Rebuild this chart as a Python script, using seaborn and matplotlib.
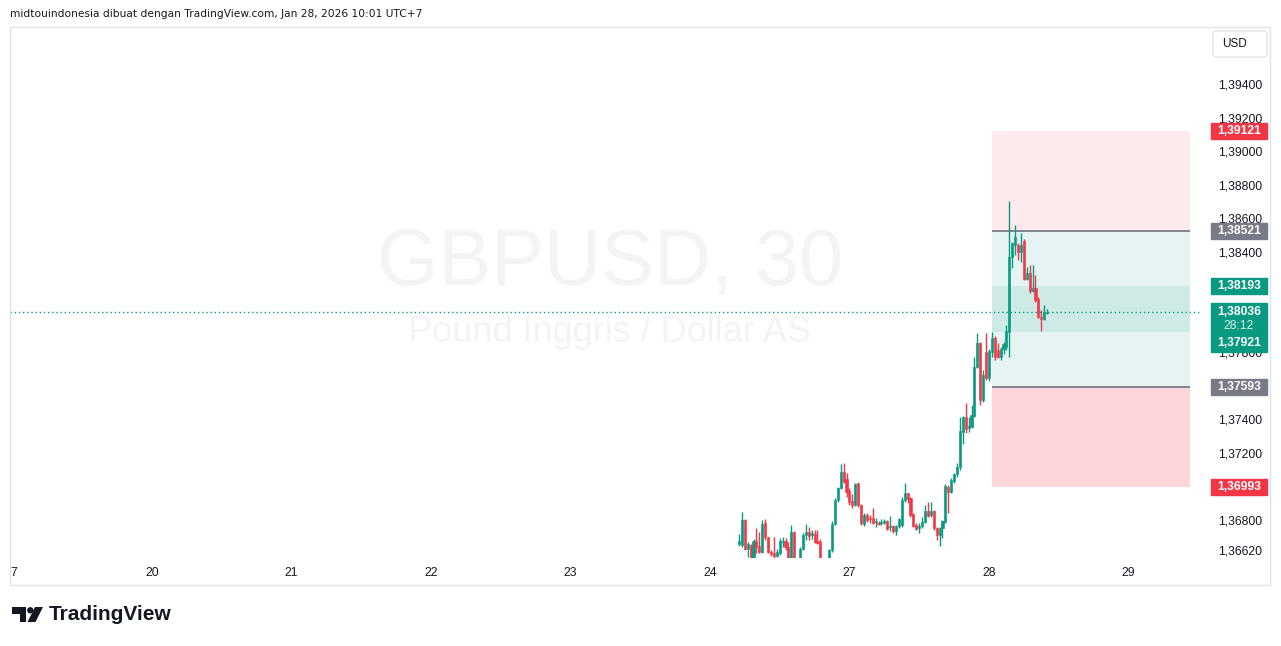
import numpy as np
import pandas as pd
import seaborn as sns
import matplotlib.pyplot as plt
import matplotlib.transforms as mtransforms
from matplotlib.patches import Rectangle, FancyBboxPatch, Polygon, Circle

# GBPUSD 30m candles, Jan 26 05:00 -> Jan 28 10:00 (UTC+7)
opens = [1.36654, 1.36648, 1.36797, 1.36624, 1.36648, 1.36570, 1.36672, 1.36642, 1.36606, 1.36779,
         1.36696, 1.36606, 1.36600, 1.36582, 1.36600, 1.36666, 1.36672, 1.36636, 1.36558, 1.36725,
         1.36528, 1.36546, 1.36624, 1.36707, 1.36725, 1.36707, 1.36713, 1.36672, 1.36666, 1.36540,
         1.36499, 1.36540, 1.36618, 1.36773, 1.36917, 1.36988, 1.37084, 1.37042, 1.36970, 1.36911,
         1.36887, 1.37018, 1.36887, 1.36773, 1.36827, 1.36809, 1.36809, 1.36785, 1.36779, 1.36779,
         1.36779, 1.36791, 1.36755, 1.36761, 1.36731, 1.36761, 1.36767, 1.36917, 1.36958, 1.36929,
         1.36833, 1.36767, 1.36749, 1.36761, 1.36785, 1.36851, 1.36827, 1.36851, 1.36749, 1.36707,
         1.36749, 1.36785, 1.36994, 1.36964, 1.37030, 1.37072, 1.37114, 1.37322, 1.37412, 1.37346,
         1.37352, 1.37418, 1.37711, 1.37854, 1.37514, 1.37800, 1.37645, 1.37800, 1.37884, 1.37812,
         1.37770, 1.37818, 1.37830, 1.37919, 1.38367, 1.38439, 1.38439, 1.38397, 1.38463, 1.38236,
         1.38272, 1.38164, 1.38182, 1.38116, 1.38009, 1.37997, 1.38030]
highs = [1.36713, 1.36845, 1.36803, 1.36666, 1.36654, 1.36684, 1.36749, 1.36725, 1.36797, 1.36803,
         1.36696, 1.36618, 1.36696, 1.36624, 1.36690, 1.36696, 1.36690, 1.36666, 1.36767, 1.36731,
         1.36540, 1.36636, 1.36719, 1.36773, 1.36755, 1.36737, 1.36737, 1.36737, 1.36684, 1.36546,
         1.36540, 1.36624, 1.36791, 1.36929, 1.36994, 1.37131, 1.37137, 1.37078, 1.36988, 1.36952,
         1.37018, 1.37018, 1.36893, 1.36839, 1.36839, 1.36827, 1.36869, 1.36809, 1.36791, 1.36803,
         1.36803, 1.36797, 1.36821, 1.36767, 1.36767, 1.36809, 1.36934, 1.37018, 1.36958, 1.36935,
         1.36839, 1.36779, 1.36779, 1.36815, 1.36887, 1.36905, 1.36905, 1.36857, 1.36755, 1.36755,
         1.36797, 1.37012, 1.37006, 1.37048, 1.37078, 1.37137, 1.37412, 1.37418, 1.37496, 1.37412,
         1.37484, 1.37770, 1.37913, 1.37860, 1.37693, 1.37913, 1.37818, 1.37919, 1.37896, 1.37854,
         1.37830, 1.37860, 1.37961, 1.38702, 1.38457, 1.38558, 1.38451, 1.38510, 1.38475, 1.38308,
         1.38320, 1.38320, 1.38260, 1.38128, 1.38051, 1.38081, 1.38057]
lows = [1.36642, 1.36636, 1.36618, 1.36576, 1.36546, 1.36546, 1.36600, 1.36600, 1.36600, 1.36678,
        1.36600, 1.36582, 1.36570, 1.36576, 1.36588, 1.36636, 1.36618, 1.36546, 1.36546, 1.36540,
        1.36499, 1.36540, 1.36618, 1.36678, 1.36678, 1.36684, 1.36660, 1.36655, 1.36540, 1.36487,
        1.36487, 1.36534, 1.36606, 1.36767, 1.36905, 1.36982, 1.37018, 1.36934, 1.36887, 1.36869,
        1.36881, 1.36875, 1.36767, 1.36761, 1.36785, 1.36779, 1.36776, 1.36755, 1.36767, 1.36767,
        1.36773, 1.36737, 1.36731, 1.36719, 1.36707, 1.36749, 1.36755, 1.36905, 1.36899, 1.36815,
        1.36755, 1.36737, 1.36719, 1.36749, 1.36779, 1.36815, 1.36815, 1.36737, 1.36678, 1.36642,
        1.36690, 1.36779, 1.36839, 1.36958, 1.37018, 1.37054, 1.37096, 1.37251, 1.37316, 1.37322,
        1.37346, 1.37412, 1.37705, 1.37484, 1.37502, 1.37633, 1.37627, 1.37770, 1.37752, 1.37764,
        1.37752, 1.37788, 1.37812, 1.37770, 1.38301, 1.38379, 1.38349, 1.38337, 1.38230, 1.38230,
        1.38152, 1.38158, 1.38099, 1.38003, 1.37925, 1.37991, 1.38024]
closes = [1.36672, 1.36797, 1.36624, 1.36654, 1.36570, 1.36672, 1.36636, 1.36606, 1.36773, 1.36696,
          1.36606, 1.36594, 1.36582, 1.36606, 1.36672, 1.36672, 1.36636, 1.36570, 1.36725, 1.36552,
          1.36511, 1.36624, 1.36707, 1.36725, 1.36701, 1.36719, 1.36666, 1.36660, 1.36552, 1.36499,
          1.36528, 1.36618, 1.36773, 1.36917, 1.36988, 1.37084, 1.37024, 1.36964, 1.36905, 1.36887,
          1.37012, 1.36887, 1.36779, 1.36827, 1.36797, 1.36803, 1.36782, 1.36791, 1.36773, 1.36785,
          1.36791, 1.36743, 1.36761, 1.36731, 1.36761, 1.36803, 1.36917, 1.36958, 1.36923, 1.36827,
          1.36761, 1.36743, 1.36761, 1.36785, 1.36851, 1.36821, 1.36851, 1.36749, 1.36707, 1.36749,
          1.36791, 1.37000, 1.36964, 1.37036, 1.37072, 1.37114, 1.37328, 1.37412, 1.37340, 1.37358,
          1.37424, 1.37711, 1.37854, 1.37514, 1.37663, 1.37645, 1.37806, 1.37884, 1.37770, 1.37770,
          1.37818, 1.37848, 1.37925, 1.38367, 1.38451, 1.38487, 1.38397, 1.38439, 1.38236, 1.38272,
          1.38164, 1.38182, 1.38111, 1.38009, 1.37997, 1.38039, 1.38036]

# time axis (30m bars, weekends compressed), one label per day
day_ticks = [-249.4, -202, -154, -106, -58, -10, 38, 86, 134]
day_labels = ["7", "20", "21", "22", "23", "24", "27", "28", "29"]

# price scale labels that are not hidden behind a badge
price_ticks = [1.3662, 1.368, 1.372, 1.374, 1.378, 1.384, 1.386, 1.388, 1.390, 1.392, 1.394]

# position tool levels
pos_start, pos_end = 87.0, 155.1
stop_top, entry_short, entry_long, stop_bottom = 1.39121, 1.38521, 1.37593, 1.36993
zone_hi, zone_lo = 1.38193, 1.37921
last_price = 1.38036
countdown = "28:12"

UP = "#089981"
DOWN = "#f23645"
GREY = "#787b86"
TXT = "#131722"

sns.set_theme(style="white")
plt.rcParams['font.family'] = ['Liberation Sans', 'DejaVu Sans']

df = pd.DataFrame({"open": opens, "high": highs, "low": lows, "close": closes})
df["bar"] = np.arange(len(df))
df["up"] = df["close"] >= df["open"]
df["body_lo"] = df[["open", "close"]].min(axis=1)
df["body_h"] = (df["close"] - df["open"]).abs().clip(lower=0.00006)
colors = np.where(df["up"], UP, DOWN)

fig = plt.figure(figsize=(12.81, 6.46), dpi=100)
ax = fig.add_axes([10 / 1281, 88 / 646, 1190 / 1281, 531 / 646])
ax.set_xlim(-250.8, 158.6)
ax.set_ylim(1.365702, 1.397403)

# watermark
ax.text(0.504, 0.552, "GBPUSD, 30", transform=ax.transAxes, ha="center", va="center",
        fontsize=57, color="#f3f4f6", zorder=0)
ax.text(0.504, 0.424, "Pound Inggris / Dollar AS", transform=ax.transAxes, ha="center",
        va="center", fontsize=26, color="#f3f4f6", zorder=0)

# long/short position zones
xs = [pos_start, pos_end]
ax.fill_between(xs, entry_short, stop_top, color=DOWN, alpha=0.1, lw=0, zorder=1)
ax.fill_between(xs, entry_long, entry_short, color=UP, alpha=0.1, lw=0, zorder=1)
ax.fill_between(xs, zone_lo, zone_hi, color=UP, alpha=0.1, lw=0, zorder=1)
ax.fill_between(xs, stop_bottom, entry_long, color=DOWN, alpha=0.2, lw=0, zorder=1)
ax.hlines([entry_short, entry_long], pos_start, pos_end, color=GREY, lw=1.3, zorder=2)

# candles
ax.vlines(df["bar"], df["low"], df["high"], colors=colors, lw=1.0, zorder=3)
ax.bar(df["bar"], df["body_h"], bottom=df["body_lo"], width=0.72, color=colors,
       edgecolor=colors, lw=0.4, zorder=4)

# last price line
ax.axhline(last_price, color=UP, lw=1, ls=(0, (1, 2)), zorder=5)

# axes styling
for s in ax.spines.values():
    s.set_visible(False)
ax.yaxis.tick_right()
ax.set_yticks(price_ticks)
ax.set_yticklabels([f"{p:.5f}".replace(".", ",") for p in price_ticks])
ax.set_xticks(day_ticks)
ax.set_xticklabels(day_labels)
ax.tick_params(axis="y", length=0, pad=13, labelsize=8.7, labelcolor=TXT)
ax.tick_params(axis="x", length=0, pad=6.5, labelsize=8.7, labelcolor=TXT)
ax.grid(False)

# price badges on the scale
bt = mtransforms.blended_transform_factory(ax.transAxes, ax.transData)
bx0, bw = 1.00924, 0.0471
bh = 16 / 16750


def badge(price, label, color, top=None, bottom=None):
    y0 = price - bh / 2 if bottom is None else bottom
    h = bh if top is None else top - bottom
    ax.add_patch(Rectangle((bx0, y0), bw, h, transform=bt, color=color, clip_on=False, zorder=10))
    if label:
        ax.text(bx0 + bw / 2, price, label, transform=bt, ha="center", va="center", color="white",
                fontsize=8.7, fontweight="bold", zorder=11, clip_on=False)


badge(stop_top, "1,39121", DOWN)
badge(entry_short, "1,38521", GREY)
badge(zone_hi, "1,38193", UP)
badge(last_price, None, UP, top=1.38090, bottom=1.37800)
ax.text(bx0 + bw / 2, last_price, "1,38036", transform=bt, ha="center", va="center", color="white",
        fontsize=8.7, fontweight="bold", zorder=11, clip_on=False)
ax.text(bx0 + bw / 2, 1.37955, countdown, transform=bt, ha="center", va="center", color="#d8f0eb",
        fontsize=8.7, zorder=11, clip_on=False)
ax.text(bx0 + bw / 2, 1.37851, "1,37921", transform=bt, ha="center", va="center", color="white",
        fontsize=8.7, fontweight="bold", zorder=11, clip_on=False)
badge(entry_long, "1,37593", GREY)
badge(stop_bottom, "1,36993", DOWN)

# frame, header, currency box, logo (pixel coordinates)
px = mtransforms.IdentityTransform()
H = 646
fig.add_artist(Rectangle((10, H - 585), 1260, 558, transform=px, fill=False, ec="#e0e3eb", lw=1))
fig.add_artist(FancyBboxPatch((1213, H - 57), 54, 26, boxstyle="round,pad=0,rounding_size=4",
                              transform=px, fc="white", ec="#e0e3eb", lw=1))
fig.text(1222 / 1281, 1 - 44 / H, "USD", ha="left", va="center", fontsize=8.5, color=TXT)
fig.text(10 / 1281, 1 - 14 / H, "midtouindonesia dibuat dengan TradingView.com, Jan 28, 2026 10:01 UTC+7",
         ha="left", va="center", fontsize=7.7, color=TXT, family="DejaVu Sans")

logo_t = [(12, 607), (26, 607), (26, 622), (19.5, 622), (19.5, 613.5), (12, 613.5)]
logo_p = [(35, 607), (43, 607), (35.5, 622), (27.5, 622)]
fig.add_artist(Polygon([(x, H - y) for x, y in logo_t], closed=True, transform=px, color=TXT, lw=0))
fig.add_artist(Polygon([(x, H - y) for x, y in logo_p], closed=True, transform=px, color=TXT, lw=0))
fig.add_artist(Circle((30.3, H - 610.3), 3.2, transform=px, color=TXT, lw=0))
fig.text(49 / 1281, 1 - 615 / H, "TradingView", ha="left", va="center", fontsize=15,
         fontweight="bold", color=TXT)

fig.savefig("out.png", dpi=100)
